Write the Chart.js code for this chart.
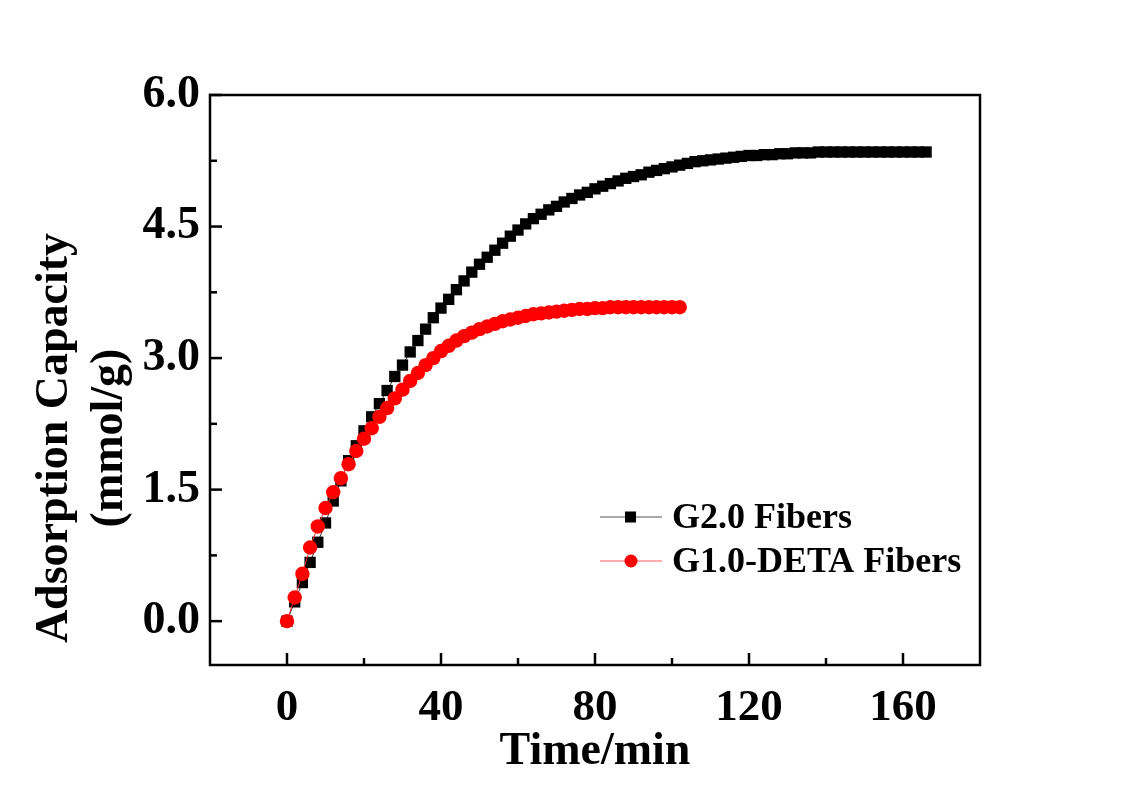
<!DOCTYPE html>
<html><head><meta charset="utf-8">
<script src="https://cdn.jsdelivr.net/npm/chart.js@4.4.0/dist/chart.umd.min.js"></script>
<style>html,body{margin:0;padding:0;background:#fff}#wrap{width:1122px;height:788px}</style>
</head><body><div id="wrap"><canvas id="c" width="1122" height="788"></canvas></div>
<script>
const seriesNames = ['G2.0 Fibers', 'G1.0-DETA Fibers'];
const xTitle = 'Time/min';
const yTitle = ['Adsorption Capacity', '(mmol/g)'];
const timeG20 = [0,2,4,6,8,10,12,14,16,18,20,22,24,26,28,30,32,34,36,38,40,42,44,46,48,50,52,54,56,58,60,62,64,66,68,70,72,74,76,78,80,82,84,86,88,90,92,94,96,98,100,102,104,106,108,110,112,114,116,118,120,122,124,126,128,130,132,134,136,138,140,142,144,146,148,150,152,154,156,158,160,162,164,166];
const capG20 = [0,0.22,0.44,0.67,0.90,1.12,1.37,1.60,1.83,2.00,2.17,2.33,2.48,2.63,2.79,2.92,3.07,3.20,3.33,3.46,3.57,3.67,3.78,3.88,3.98,4.07,4.15,4.23,4.31,4.39,4.46,4.53,4.59,4.64,4.69,4.73,4.78,4.82,4.86,4.89,4.93,4.96,4.99,5.02,5.05,5.07,5.09,5.12,5.14,5.16,5.18,5.20,5.22,5.24,5.25,5.26,5.27,5.28,5.29,5.30,5.31,5.31,5.32,5.32,5.33,5.33,5.34,5.34,5.34,5.35,5.35,5.35,5.35,5.35,5.35,5.35,5.35,5.35,5.35,5.35,5.35,5.35,5.35,5.35];
const timeDETA = [0,2,4,6,8,10,12,14,16,18,20,22,24,26,28,30,32,34,36,38,40,42,44,46,48,50,52,54,56,58,60,62,64,66,68,70,72,74,76,78,80,82,84,86,88,90,92,94,96,98,100,102];
const capDETA = [0,0.27,0.54,0.84,1.08,1.29,1.47,1.63,1.79,1.94,2.08,2.20,2.33,2.43,2.54,2.64,2.74,2.83,2.92,3.00,3.08,3.14,3.20,3.25,3.29,3.33,3.36,3.39,3.42,3.44,3.46,3.48,3.50,3.51,3.52,3.53,3.54,3.55,3.56,3.56,3.57,3.57,3.58,3.58,3.58,3.58,3.58,3.58,3.58,3.58,3.58,3.58];
const xTickLabels = [0,40,80,120,160];
const xMinorTicks = [20,60,100,140];
const yTickLabels = [0.0,1.5,3.0,4.5,6.0];
const yMinorTicks = [0.75,2.25,3.75,5.25];

const FONT = "'Liberation Serif','Times New Roman',serif";

function pts(xs, ys){ return xs.map((x,i)=>({x:x, y:ys[i]})); }

const framePlugin = {
  id: 'frame',
  afterDraw(chart){
    const {ctx, chartArea:a} = chart;
    const sx = chart.scales.x, sy = chart.scales.y;
    ctx.save();
    ctx.strokeStyle = '#000';
    ctx.lineCap = 'butt';
    ctx.lineWidth = 2.5;
    const xMarks = xTickLabels.map(v=>[v,12]).concat(xMinorTicks.map(v=>[v,7]));
    const yMarks = yTickLabels.map(v=>[v,12]).concat(yMinorTicks.map(v=>[v,7]));
    for (const [v, len] of xMarks) {
      const p = sx.getPixelForValue(v);
      ctx.beginPath(); ctx.moveTo(p, a.bottom + 1); ctx.lineTo(p, a.bottom - len); ctx.stroke();
    }
    for (const [v, len] of yMarks) {
      const p = sy.getPixelForValue(v);
      ctx.beginPath(); ctx.moveTo(a.left - 1, p); ctx.lineTo(a.left + len, p); ctx.stroke();
    }
    ctx.strokeRect(a.left, a.top, a.right-a.left, a.bottom-a.top);
    // y-axis title (two lines, rotated)
    ctx.fillStyle = '#000';
    ctx.font = 'bold 46px ' + FONT;
    ctx.textAlign = 'center';
    ctx.textBaseline = 'middle';
    [[55, yTitle[0]], [110.5, yTitle[1]]].forEach(([cx, t])=>{
      ctx.save(); ctx.translate(cx, 438); ctx.rotate(-Math.PI/2); ctx.fillText(t, 0, 0); ctx.restore();
    });
    // legend
    const items = [
      {name: seriesNames[0], style:'rect', line:'#555', fill:'#000', y:517},
      {name: seriesNames[1], style:'circle', line:'#ff6060', fill:'#ff0000', y:561}
    ];
    items.forEach(it=>{
      ctx.lineWidth = 1.2;
      ctx.strokeStyle = it.line;
      ctx.beginPath(); ctx.moveTo(600, it.y); ctx.lineTo(662, it.y); ctx.stroke();
      ctx.fillStyle = it.fill;
      if (it.style === 'rect') { ctx.fillRect(625, it.y-5.5, 11, 11); }
      else { ctx.beginPath(); ctx.arc(631, it.y, 6.5, 0, Math.PI*2); ctx.fill(); }
      ctx.fillStyle = '#000';
      ctx.font = 'bold 36px ' + FONT;
      ctx.textBaseline = 'alphabetic';
      ctx.textAlign = 'left';
      ctx.fillText(it.name, 672, it.y + 11);
    });
    ctx.restore();
  }
};

new Chart(document.getElementById('c'), {
  type: 'scatter',
  data: {
    datasets: [
      { label: seriesNames[0], data: pts(timeG20, capG20), showLine: true, order: 2,
        borderColor: '#333', borderWidth: 1, pointStyle: 'rect', pointRadius: 8,
        pointBackgroundColor: '#000', pointBorderColor: '#000', pointBorderWidth: 0 },
      { label: seriesNames[1], data: pts(timeDETA, capDETA), showLine: true, order: 1,
        borderColor: '#ff3030', borderWidth: 1, pointStyle: 'circle', pointRadius: 7.2,
        pointBackgroundColor: '#ff0000', pointBorderColor: '#ff0000', pointBorderWidth: 0 }
    ]
  },
  options: {
    responsive: false, animation: false, devicePixelRatio: 1,
    layout: { padding: { top: 95, right: 142, left: 0, bottom: 0 } },
    plugins: { legend: { display: false }, tooltip: { enabled: false } },
    scales: {
      x: {
        type: 'linear', min: -20, max: 180,
        afterBuildTicks: s => { s.ticks = xTickLabels.map(v=>({value:v})); },
        afterFit: s => { s.height = 123; },
        grid: { display: false, drawTicks: false }, border: { display: false },
        ticks: { color: '#000', padding: 16, font: { family: FONT, size: 45, weight: 'bold' }, callback: v => String(v) },
        title: { display: true, text: xTitle, color: '#000', font: { family: FONT, size: 46, weight: 'bold', lineHeight: 1.2 }, padding: { top: 0, bottom: 8 } }
      },
      y: {
        type: 'linear', min: -0.5, max: 6.0,
        afterBuildTicks: s => { s.ticks = yTickLabels.map(v=>({value:v})); },
        afterFit: s => { s.width = 210; },
        grid: { display: false, drawTicks: false }, border: { display: false },
        ticks: { color: '#000', padding: 10, font: { family: FONT, size: 46, weight: 'bold' }, callback: v => Number(v).toFixed(1) },
        title: { display: false }
      }
    }
  },
  plugins: [framePlugin]
});
</script>
</body></html>
